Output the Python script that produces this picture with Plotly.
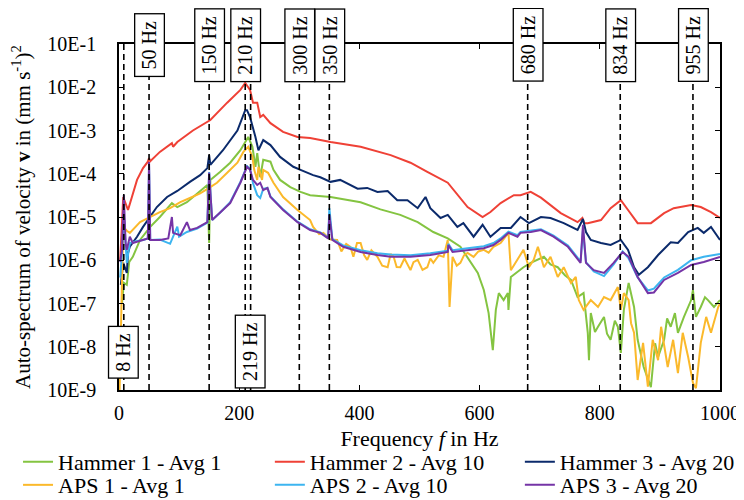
import plotly.graph_objects as go

FONT = "Liberation Serif, Times New Roman, serif"

# ---------------- data ----------------
h1_f = [5, 8, 13, 17, 23, 35, 52, 68, 88, 97, 113, 130, 147, 150, 152, 168, 185, 202, 215, 222, 227, 230, 235,
        240, 252, 257, 268, 285, 302, 318, 352, 402, 435, 468, 497, 523, 547, 568, 585, 597, 607, 615, 622, 627,
        632, 640, 647, 648, 652, 663, 673, 685, 697, 707, 718, 730, 742, 752, 763, 773, 780, 782, 785, 792, 797,
        807, 812, 818, 825, 830, 835, 840, 848, 857, 863, 873, 885, 892, 897, 907, 912, 918, 925, 930, 940, 947,
        952, 955, 960, 968, 975, 980, 990, 1000]
h1_v = [1.0e-7, 3.0e-7, 2.7e-7, 9.1e-7, 1.2e-6, 2.95e-6, 5.9e-6, 1.0e-5, 2.1e-5, 1.7e-5, 2.2e-5, 3.5e-5, 5.5e-5,
        2.5e-6, 7.2e-5, 1.1e-4, 1.8e-4, 3.5e-4, 7.1e-4, 4.2e-4, 1.45e-4, 3.0e-4, 8.3e-5, 2.1e-4, 1.9e-4, 1.23e-4,
        7.2e-5, 4.9e-5, 3.8e-5, 3.2e-5, 2.9e-5, 2.2e-5, 1.5e-5, 1.12e-5, 7.6e-6, 4.5e-6, 3.2e-6, 2.05e-6, 8.7e-7,
        5.1e-7, 2.05e-7, 6.0e-8, 8.3e-9, 7.1e-8, 1.74e-7, 1.2e-7, 1.74e-7, 7.1e-8, 4.1e-7, 5.4e-7, 6.9e-7, 8.7e-7,
        1.02e-6, 1.2e-6, 8.0e-7, 6.9e-7, 4.5e-7, 3.5e-7, 1.41e-7, 1.74e-7, 2.1e-8, 4.9e-9, 6.0e-8, 2.2e-8, 2.9e-8,
        4.9e-8, 2.0e-8, 1.45e-8, 4.0e-8, 2.9e-8, 7.2e-9, 7.1e-8, 3.0e-7, 8.3e-8, 1.45e-8, 3.4e-9, 1.17e-9, 1.2e-8,
        5.8e-9, 1.45e-8, 4.5e-8, 2.9e-8, 6.0e-8, 2.1e-8, 4.9e-8, 8.0e-8, 1.2e-7, 2.05e-7, 4.9e-8, 8.3e-8, 1.4e-7,
        1.2e-7, 8.3e-8, 1.2e-7]

h2_f = [2, 7, 15, 22, 30, 40, 48, 50, 52, 68, 88, 90, 97, 123, 152, 180, 202, 210, 218, 223, 230, 235, 240, 252,
        273, 297, 318, 352, 402, 452, 485, 513, 547, 580, 605, 618, 635, 657, 668, 685, 702, 735, 763, 771, 774,
        780, 802, 818, 835, 847, 863, 885, 907, 923, 952, 968, 985, 1000]
h2_v = [1.0e-6, 2.9e-5, 1.45e-5, 2.9e-5, 7.2e-5, 1.35e-4, 1.9e-4, 2.3e-4, 1.95e-4, 3.2e-4, 5.1e-4, 4.2e-4, 5.4e-4,
        1.0e-3, 1.75e-3, 4.4e-3, 8.7e-3, 1.26e-2, 8.7e-3, 4.4e-3, 4.4e-3, 2.05e-3, 2.3e-3, 1.48e-3, 9.3e-4, 7.1e-4,
        6.7e-4, 5.4e-4, 4.2e-4, 2.7e-4, 1.8e-4, 1.1e-4, 6.2e-5, 1.7e-5, 1.0e-5, 1.3e-5, 2.1e-5, 3.2e-5, 3.2e-5,
        3.8e-5, 2.8e-5, 1.23e-5, 7.6e-6, 9.5e-6, 7.2e-6, 7.2e-6, 8.5e-6, 1.6e-5, 2.45e-5, 1.45e-5, 7.2e-6, 7.2e-6,
        1.23e-5, 1.6e-5, 1.9e-5, 1.7e-5, 1.3e-5, 9.5e-6]

h3_f = [3, 7, 13, 15, 18, 30, 40, 52, 63, 80, 97, 118, 135, 147, 150, 152, 173, 197, 210, 213, 218, 227, 232,
        240, 252, 268, 290, 302, 323, 335, 352, 368, 385, 397, 413, 430, 447, 463, 480, 497, 510, 518, 535, 547,
        563, 573, 590, 605, 618, 635, 652, 668, 682, 702, 718, 740, 763, 772, 777, 785, 802, 818, 835, 847, 857,
        865, 880, 897, 918, 930, 947, 963, 973, 985, 1000]
h3_v = [2.7e-7, 8.7e-7, 5.1e-7, 1.48e-6, 2.05e-6, 3.5e-6, 5.9e-6, 1.0e-5, 1.7e-5, 2.9e-5, 4.0e-5, 6.5e-5, 9.3e-5,
        1.35e-4, 2.7e-4, 1.6e-4, 3.5e-4, 1.0e-3, 2.95e-3, 2.95e-3, 2.05e-3, 7.1e-4, 3.5e-4, 6.0e-4, 4.6e-4,
        2.45e-4, 1.45e-4, 1.23e-4, 9.3e-5, 8.3e-5, 6.5e-5, 7.2e-5, 5.5e-5, 4.5e-5, 4.7e-5, 3.8e-5, 4.0e-5,
        2.45e-5, 2.45e-5, 1.6e-5, 2.9e-5, 1.6e-5, 9.5e-6, 1.12e-5, 5.9e-6, 7.2e-6, 3.5e-6, 6.6e-6, 3.5e-6,
        5.6e-6, 5.6e-6, 1.0e-5, 7.2e-6, 1.0e-5, 9.5e-6, 7.2e-6, 5.0e-6, 9.0e-6, 4.5e-6, 2.95e-6, 2.5e-6, 2.25e-6,
        2.95e-6, 1.74e-6, 6.9e-7, 4.6e-7, 6.9e-7, 1.32e-6, 2.6e-6, 2.5e-6, 4.5e-6, 5.6e-6, 4.3e-6, 5.9e-6, 2.95e-6]

a1_f = [1, 3, 5, 7, 13, 18, 35, 52, 68, 85, 102, 118, 135, 150, 163, 180, 197, 207, 215, 222, 225, 230, 232, 238,
        240, 248, 257, 273, 297, 318, 323, 333, 340, 352, 363, 370, 378, 385, 390, 396, 402, 408, 413, 420, 430,
        438, 447, 452, 457, 462, 468, 475, 485, 490, 497, 505, 513, 518, 523, 532, 540, 547, 550, 555, 562, 568,
        574, 580, 590, 598, 607, 615, 623, 635, 648, 652, 663, 673, 682, 690, 697, 707, 718, 730, 740, 752, 760,
        765, 773, 785, 797, 807, 818, 830, 835, 840, 848, 852, 857, 863, 872, 880, 888, 897, 902, 913, 922, 930,
        938, 947, 955, 960, 968, 977, 985, 997, 1000]
a1_v = [1.0e-9, 2.45e-8, 1.0e-6, 5.9e-6, 4.8e-6, 4.3e-6, 7.6e-6, 1.0e-5, 1.3e-5, 1.6e-5, 2.2e-5, 2.75e-5, 3.5e-5,
        4.7e-5, 6.2e-5, 1.05e-4, 1.8e-4, 3.2e-4, 4.2e-4, 2.45e-4, 1.23e-4, 7.2e-5, 1.45e-4, 7.2e-5, 1.23e-4,
        1.05e-4, 6.2e-5, 2.9e-5, 1.45e-5, 8.5e-6, 5.9e-6, 4.0e-6, 4.3e-6, 3.0e-6, 2.95e-6, 1.6e-6, 2.4e-6,
        2.05e-6, 1.2e-6, 2.5e-6, 2.5e-6, 1.3e-6, 1.02e-6, 1.7e-6, 1.2e-6, 7.5e-7, 6.9e-7, 1.4e-6, 1.2e-6, 7.0e-7,
        6.9e-7, 1.1e-6, 5.9e-7, 9.0e-7, 1.02e-6, 6.0e-7, 6.9e-7, 1.1e-6, 8.7e-7, 1.3e-6, 1.2e-6, 2.95e-6, 8.3e-8,
        1.2e-6, 7.5e-7, 8.7e-7, 1.3e-6, 1.48e-6, 1.2e-6, 1.6e-6, 1.74e-6, 1.5e-6, 2.05e-6, 2.5e-6, 4.3e-6, 5.9e-7,
        1.02e-6, 1.74e-6, 6.9e-7, 1.02e-6, 2.05e-6, 6.9e-7, 1.2e-6, 4.1e-7, 6.9e-7, 3.0e-7, 4.1e-7, 1.2e-7, 7.1e-8,
        1.2e-7, 8.3e-8, 1.41e-7, 1.2e-7, 2.4e-7, 7.1e-8, 1.74e-7, 1.2e-7, 3.5e-8, 2.1e-8, 1.7e-9, 1.23e-8, 1.2e-9,
        1.45e-8, 4.9e-9, 2.9e-8, 3.4e-9, 1.45e-8, 2.45e-9, 2.1e-8, 5.8e-9, 1.45e-9, 1.1e-9, 1.23e-8, 4.9e-8,
        2.1e-8, 8.3e-8, 1.0e-7]

a2_f = [2, 5, 8, 11, 13, 18, 23, 30, 40, 48, 50, 52, 68, 85, 97, 100, 113, 130, 147, 150, 155, 168, 185, 202, 213,
        218, 223, 230, 235, 240, 247, 252, 273, 297, 318, 335, 348, 350, 355, 373, 402, 430, 452, 485, 518, 547,
        548, 555, 580, 607, 623, 635, 648, 663, 668, 685, 702, 723, 747, 763, 768, 772, 777, 790, 807, 823, 838,
        848, 863, 880, 890, 907, 930, 952, 973, 1000]
a2_v = [4.0e-7, 1.5e-6, 1.2e-5, 1.5e-6, 8.7e-7, 2.5e-6, 2.65e-6, 2.8e-6, 2.95e-6, 3.2e-6, 1.5e-4, 2.95e-6, 3.0e-6,
        2.4e-6, 6.0e-6, 3.5e-6, 4.5e-6, 5.4e-6, 7.4e-6, 1.1e-4, 8.5e-6, 1.25e-5, 2.2e-5, 6.5e-5, 1.5e-4, 1.3e-4,
        6.0e-5, 3.2e-5, 2.75e-5, 4.5e-5, 4.7e-5, 3.0e-5, 1.5e-5, 7.8e-6, 5.2e-6, 4.4e-6, 3.3e-6, 1.6e-5, 3.1e-6,
        2.2e-6, 1.7e-6, 1.45e-6, 1.35e-6, 1.3e-6, 1.45e-6, 1.65e-6, 2.4e-6, 1.7e-6, 1.9e-6, 2.1e-6, 2.5e-6, 3.2e-6,
        4.6e-6, 3.8e-6, 4.5e-6, 4.8e-6, 5.2e-6, 3.7e-6, 2.2e-6, 1.15e-6, 9.5e-7, 5.0e-6, 9.0e-7, 5.5e-7, 4.3e-7,
        8.0e-7, 1.6e-6, 1.1e-6, 4.0e-7, 2.0e-7, 2.2e-7, 4.0e-7, 6.0e-7, 1.0e-6, 1.2e-6, 1.4e-6]

a3_f = [2, 5, 8, 11, 13, 18, 23, 30, 40, 48, 50, 52, 68, 82, 88, 90, 102, 113, 118, 130, 147, 150, 155, 168, 185,
        202, 213, 218, 223, 230, 235, 240, 247, 252, 273, 297, 318, 335, 348, 350, 355, 373, 402, 430, 452, 485,
        518, 547, 548, 555, 580, 607, 623, 635, 648, 663, 668, 685, 702, 723, 747, 763, 768, 772, 777, 790, 807,
        823, 838, 848, 863, 880, 890, 907, 930, 952, 973, 1000]
a3_v = [9.1e-7, 1.74e-6, 3.2e-5, 2.5e-6, 1.74e-6, 3.5e-6, 2.5e-6, 2.65e-6, 2.95e-6, 3.2e-6, 1.86e-4, 2.95e-6,
        2.95e-6, 3.2e-6, 1.0e-5, 4.3e-6, 3.8e-6, 7.6e-6, 5.0e-6, 5.6e-6, 7.6e-6, 1.05e-4, 8.5e-6, 1.23e-5, 2.1e-5,
        6.2e-5, 1.45e-4, 1.23e-4, 7.2e-5, 5.5e-5, 6.2e-5, 4.2e-5, 4.7e-5, 2.9e-5, 1.45e-5, 7.6e-6, 5.0e-6, 4.3e-6,
        3.2e-6, 1.12e-5, 2.95e-6, 2.05e-6, 1.55e-6, 1.32e-6, 1.2e-6, 1.2e-6, 1.32e-6, 1.55e-6, 2.25e-6, 1.55e-6,
        1.74e-6, 1.9e-6, 2.25e-6, 2.95e-6, 4.3e-6, 3.5e-6, 4.3e-6, 4.5e-6, 5.0e-6, 3.5e-6, 2.05e-6, 1.02e-6,
        8.7e-7, 6.6e-6, 8.7e-7, 5.9e-7, 5.1e-7, 8.7e-7, 1.55e-6, 1.2e-6, 4.1e-7, 1.74e-7, 1.8e-7, 3.5e-7, 5.1e-7,
        7.8e-7, 9.1e-7, 1.2e-6]

series_names = ["Hammer 1 - Avg 1", "Hammer 2 - Avg 10", "Hammer 3 - Avg 20",
                "APS 1 - Avg 1", "APS 2 - Avg 10", "APS 3 - Avg 20"]
series_f = [h1_f, h2_f, h3_f, a1_f, a2_f, a3_f]
series_v = [h1_v, h2_v, h3_v, a1_v, a2_v, a3_v]
colors = ["#84c441", "#ef4136", "#0b2a6b", "#fbb92b", "#3cb5f0", "#7534a6"]

marker_freqs = [8, 50, 150, 210, 219, 300, 350, 680, 834, 955]
marker_labels = ["8 Hz", "50 Hz", "150 Hz", "210 Hz", "219 Hz", "300 Hz", "350 Hz", "680 Hz", "834 Hz", "955 Hz"]
marker_bottom = [True, False, False, False, True, False, False, False, False, False]

x_ticks = [0, 200, 400, 600, 800, 1000]
y_ticks = [1e-1, 1e-2, 1e-3, 1e-4, 1e-5, 1e-6, 1e-7, 1e-8, 1e-9]
y_ticktext = ["10E-1", "10E-2", "10E-3", "10E-4", "10E-5", "10E-6", "10E-7", "10E-8", "10E-9"]

# ---------------- figure ----------------
legend_ids = ["legend", "legend2", "legend3", "legend4", "legend5", "legend6"]
legend_x = [-0.168, 0.251, 0.667, -0.168, 0.251, 0.667]
legend_y = [-0.147, -0.147, -0.147, -0.214, -0.214, -0.214]

fig = go.Figure()
for name, f, v, c, lg in zip(series_names, series_f, series_v, colors, legend_ids):
    fig.add_trace(go.Scatter(x=f, y=v, mode="lines", name=name, legend=lg,
                             line=dict(color=c, width=2)))

for fr in marker_freqs:
    fig.add_shape(type="line", xref="x", yref="paper", x0=fr, x1=fr, y0=0, y1=1,
                  line=dict(color="black", width=1.6, dash="6px,4px"), layer="above")

for fr, lab, bottom in zip(marker_freqs, marker_labels, marker_bottom):
    n = len(lab)
    w = 48 if n == 4 else (59 if n == 5 else 69)
    fig.add_annotation(x=fr, xref="x", yref="paper",
                       y=0.11 if bottom else 0.997, yanchor="middle", xanchor="center",
                       text=lab, textangle=-90, showarrow=False,
                       font=dict(family=FONT, size=20, color="black"),
                       bgcolor="white", bordercolor="black", borderwidth=1.3, borderpad=1,
                       width=w, height=26)

axis_common = dict(showline=True, linecolor="black", linewidth=1.5, mirror="ticks",
                   ticks="inside", ticklen=5, tickcolor="black", tickwidth=1.2,
                   showgrid=False, zeroline=False,
                   tickfont=dict(family=FONT, size=20, color="black"))

fig.update_xaxes(range=[0, 1000], tickvals=x_ticks, ticklabelstandoff=4, **axis_common,
                 title=dict(text="Frequency <i>f</i> in Hz", standoff=8,
                            font=dict(family=FONT, size=22, color="black")))
fig.update_yaxes(type="log", range=[-9, -1], tickvals=y_ticks, ticktext=y_ticktext,
                 ticklabelstandoff=17, **axis_common,
                 title=dict(text="Auto-spectrum of velocity <b>v</b> in (mm s<sup>-1</sup>)<sup>2</sup>",
                            standoff=13, font=dict(family=FONT, size=21, color="black")))

legends = {}
for lg, lx, ly in zip(legend_ids, legend_x, legend_y):
    legends[lg] = dict(orientation="v", x=lx, xanchor="left", y=ly, yanchor="top",
                       tracegroupgap=0, font=dict(family=FONT, size=22, color="black"),
                       bgcolor="rgba(0,0,0,0)", itemwidth=30)

fig.update_layout(
    width=736, height=492,
    margin=dict(l=111, r=24, t=36, b=110, autoexpand=False),
    plot_bgcolor="white", paper_bgcolor="white",
    font=dict(family=FONT, size=20, color="black"),
    showlegend=True,
    **legends,
)

fig.write_html("out.html")
